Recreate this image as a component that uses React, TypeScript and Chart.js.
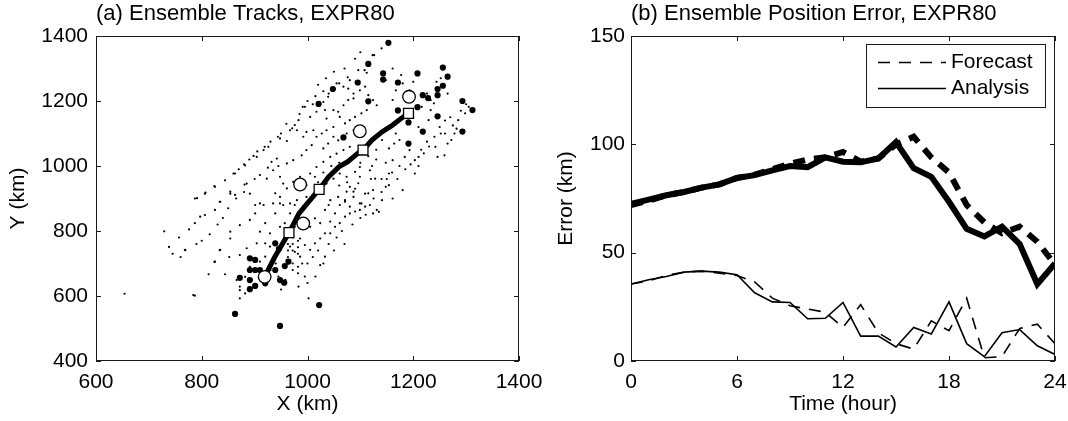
import React, { useEffect, useRef } from 'react';
import { Chart, registerables } from 'chart.js';

Chart.register(...registerables);

const FONT = 'Liberation Sans, Arial, Helvetica, sans-serif';

// ---------- Panel (a): ensemble tracks ----------
const xTicksA = [600, 800, 1000, 1200, 1400];
const yTicksA = [400, 600, 800, 1000, 1200, 1400];

const memberDots: [number, number][] = [
  [654, 607], [729, 799], [738, 751], [757, 780], [769, 741], [776, 805], [787, 601], [797, 844], [807, 918], [813, 667],
  [824, 938], [824, 705], [834, 890], [834, 741], [844, 956], [844, 667], [852, 720], [860, 977], [872, 618], [880, 1005],
  [881, 943], [898, 1031], [919, 1059], [944, 1090], [971, 1116], [991, 1182], [1040, 1223], [1060, 1254], [1076, 1273], [1108, 1295],
  [1123, 1341], [1140, 1362],
  [1126, 1341], [1112, 1287], [1096, 1295], [1080, 1264], [1087, 1223], [1077, 1238], [1068, 1244], [1055, 1254], [1039, 1213], [1030, 1197],
  [1033, 1172], [1017, 1167], [995, 1182], [1005, 1151], [983, 1141], [976, 1126], [967, 1110], [948, 1085], [961, 1077], [980, 1110],
  [992, 1090], [998, 1105], [1011, 1110], [1017, 1090], [1036, 1146], [1049, 1172], [1058, 1167], [1068, 1187], [1077, 1203], [1087, 1208],
  [1099, 1233], [1109, 1244], [1115, 1218], [1124, 1203], [1131, 1187], [1112, 1172], [1102, 1162], [1090, 1151], [1080, 1141], [1071, 1131],
  [1061, 1151], [1049, 1120], [1036, 1110], [1027, 1100], [1049, 1090], [1074, 1100], [1087, 1110], [1058, 1079], [1039, 1069], [1030, 1054],
  [1008, 1064], [998, 1049], [989, 1033], [973, 1018], [961, 1008], [942, 1023], [932, 1013], [926, 1059], [917, 1049], [904, 1028],
  [882, 1002], [863, 977], [825, 936], [806, 915], [787, 900], [854, 915], [835, 890], [910, 972], [923, 961], [935, 987],
  [948, 967], [954, 946], [961, 931], [973, 951], [986, 967], [1005, 977], [1017, 997], [1030, 1013], [1043, 1028], [1055, 1038],
  [1068, 1049], [1080, 1059], [1087, 1028], [1099, 1038], [1109, 1059], [1121, 1074], [1131, 1090], [1099, 997], [1090, 982], [1074, 967],
  [1061, 977], [1049, 961], [1036, 946], [1014, 967], [998, 941], [948, 905], [935, 885], [917, 880], [901, 880], [891, 915],
  [885, 946], [998, 905], [980, 895], [967, 885], [954, 880], [1099, 967], [1118, 987], [1128, 961], [1080, 936], [1058, 905],
  [1071, 890], [1087, 905], [1102, 885], [1109, 915], [1124, 926],
  [791, 901], [825, 865], [854, 921], [863, 911], [768, 742], [787, 824], [806, 849], [784, 603], [825, 706], [835, 742],
  [854, 798], [854, 777], [872, 818], [872, 726], [882, 659], [891, 690], [891, 834], [901, 854], [910, 885], [910, 798],
  [920, 824], [920, 762], [929, 752], [929, 793], [939, 916], [939, 854], [948, 885], [948, 813], [957, 824], [957, 777],
  [967, 854], [967, 752], [976, 880], [976, 736], [986, 854], [986, 777], [986, 721], [995, 880], [995, 757], [1005, 813],
  [1005, 742], [1014, 839], [1014, 762], [1024, 824], [1024, 777], [1024, 695], [1033, 865], [1033, 793], [1033, 721], [1043, 895],
  [1043, 829], [1052, 854], [1061, 880], [1071, 895], [1074, 921], [1080, 875], [1087, 921], [1096, 947], [1099, 885], [1115, 916],
  [1043, 793], [1052, 813], [1061, 824], [1071, 844], [1080, 854], [1090, 860], [1099, 865], [1109, 875], [1118, 880], [1124, 854],
  [1131, 865], [983, 629], [1002, 593], [872, 593], [882, 608], [866, 649], [872, 629], [885, 747], [904, 762], [910, 706],
  [920, 721], [942, 731], [948, 752], [961, 711], [967, 793], [976, 813],
  [963, 760], [963, 740], [963, 720], [963, 700], [972, 780], [972, 760], [972, 740], [972, 700], [972, 680], [982, 770],
  [982, 750], [982, 730], [982, 690], [982, 670], [958, 650], [990, 700], [995, 660], [1000, 640], [940, 700], [930, 680],
  [945, 660], [950, 620],
  [1148, 1264], [1161, 1300], [1161, 1203], [1167, 1233], [1177, 1280], [1180, 1254], [1187, 1218], [1193, 1233], [1200, 1259], [1167, 1100],
  [1174, 1080], [1180, 926], [1164, 1069], [1161, 1018], [1154, 977], [1148, 936], [1141, 895], [1135, 859], [1161, 900], [1154, 941],
  [1174, 1000], [1184, 1028], [1193, 1049], [1203, 1018], [1210, 1028], [1203, 977], [1210, 1000], [1220, 1039], [1226, 1075], [1220, 1100],
  [1229, 1141], [1233, 1172], [1239, 1193], [1246, 1028], [1242, 1059], [1252, 1100], [1265, 1069], [1265, 1223], [1278, 1100], [1285, 1141],
  [1298, 1162], [1305, 1182], [1226, 1223], [1216, 1182], [1200, 1151], [1210, 1120], [1233, 1203], [1252, 1270], [1244, 1259], [1259, 1033],
  [1272, 1080], [1282, 1115], [1141, 1080], [1154, 1054], [1148, 1010], [1130, 1020], [1122, 1000], [1140, 960],
  [870, 990], [890, 1020], [905, 1045], [930, 1075], [950, 1100], [960, 1130], [985, 1160], [1000, 1200], [1015, 1215], [1020, 1250],
  [1035, 1270], [1050, 1290], [1070, 1300], [1090, 1330], [1100, 1350], [1030, 1230], [1010, 1190], [945, 1000], [925, 995], [900, 960],
  [880, 920], [865, 900], [850, 870], [840, 840], [830, 820], [815, 790], [800, 770], [790, 760], [760, 720], [745, 730],
  [1000, 700], [1010, 720], [1020, 740], [1040, 760], [1055, 780], [1065, 800], [1085, 820], [1100, 840], [1110, 850], [1125, 900],
  [1140, 920], [1150, 960], [1160, 980], [1170, 960], [1185, 990], [1195, 1005], [1215, 1050], [1230, 1060], [1240, 1090], [1250, 1120],
  [1260, 1140], [1270, 1150], [1290, 1170], [1300, 1190], [1260, 1100], [1275, 1125], [1050, 740], [1070, 760], [1030, 700], [1015, 660],
  [1040, 880], [1060, 940], [1075, 950], [1090, 930], [1120, 960], [1100, 1010], [1115, 1030], [1130, 1050], [1060, 1010], [1045, 1000],
  [1030, 980], [1020, 950],
];

const memberEnds: [number, number][] = [
  [1153, 1379], [1115, 1314], [1143, 1285], [1143, 1266], [1095, 1257], [1171, 1257], [1048, 1237], [1208, 1285], [1256, 1303], [1265, 1275],
  [1256, 1247], [1246, 1237], [1218, 1218], [1228, 1209], [1246, 1218], [1115, 1199], [1021, 1191], [1208, 1181], [1171, 1171], [1293, 1200],
  [1312, 1172], [1191, 1134], [1246, 1153], [1218, 1106], [1293, 1106], [1191, 1069], [1068, 1088],
  [939, 762], [946, 745], [891, 716], [901, 711], [891, 680], [901, 680], [910, 680], [872, 656], [891, 649], [901, 631],
  [891, 621], [920, 639], [939, 680], [948, 649], [956, 641], [957, 692], [964, 706], [863, 545], [1022, 572], [948, 508],
];

const truthTrack: [number, number][] = [
  [919, 659], [938, 720], [965, 795], [984, 854], [1010, 905], [1022, 928], [1040, 967], [1060, 998],
  [1076, 1013], [1095, 1039], [1105, 1049], [1122, 1080], [1141, 1105], [1161, 1126], [1177, 1146], [1191, 1162],
];

const analysisMarks: [number, number][] = [[965, 795], [1022, 928], [1105, 1049], [1191, 1162]];
const meanMarks: [number, number][] = [[919, 659], [986, 943], [992, 823], [1099, 1107], [1192, 1213]];

// ---------- Panel (b): position error ----------
const hours = [0, 1, 2, 3, 4, 5, 6, 7, 8, 9, 10, 11, 12, 13, 14, 15, 16, 17, 18, 19, 20, 21, 22, 23, 24];
const xTicksB = [0, 6, 12, 18, 24];
const yTicksB = [0, 50, 100, 150];

const meanErrAnalysis = [72.5, 74.5, 76.5, 78, 80, 81.5, 84.5, 85.8, 88, 90, 89.5, 94, 92, 91.7, 93.5, 101, 89, 85, 73.5, 61, 57.5, 62, 54, 35.5, 45];
const meanErrForecast = [72, 74, 76.5, 78, 80, 81.5, 84.5, 86, 88.5, 91, 93, 94, 96.5, 92, 93.5, 100, 103.5, 94, 87, 72, 64, 59, 62, 55, 44.5];
const spreadAnalysis = [35.5, 37.5, 39, 41, 41.5, 41, 39.8, 31.5, 27.3, 27, 19.5, 19.7, 27, 11.5, 11.5, 6.5, 15.5, 12.5, 27.3, 8, 2, 13, 14.5, 7, 3];
const spreadForecast = [35.5, 37, 39.5, 41, 41.5, 40.5, 39.5, 36.5, 29, 25.5, 24, 22.5, 15.5, 26, 13, 8, 5.5, 18.5, 14, 29, 1.5, 2, 15, 17, 8];

const legendLabels = ['Forecast', 'Analysis'];

const toXY = (arr: [number, number][]) => arr.map(([x, y]) => ({ x, y }));
const series = (ys: number[]) => ys.map((y, i) => ({ x: hours[i], y }));

const framePlugin = {
  id: 'matlabFrame',
  afterDatasetsDraw(chart: any) {
    const { ctx, chartArea } = chart;
    const { left, right, top, bottom } = chartArea;
    const xs = chart.scales.x;
    const ys = chart.scales.y;
    const L = 5;
    ctx.save();
    ctx.strokeStyle = '#1a1a1a';
    ctx.lineWidth = 1;
    ctx.beginPath();
    xs.ticks.forEach((t: any) => {
      const px = Math.round(xs.getPixelForValue(t.value)) + 0.5;
      ctx.moveTo(px, bottom);
      ctx.lineTo(px, bottom - L);
      ctx.moveTo(px, top);
      ctx.lineTo(px, top + L);
    });
    ys.ticks.forEach((t: any) => {
      const py = Math.round(ys.getPixelForValue(t.value)) + 0.5;
      ctx.moveTo(left, py);
      ctx.lineTo(left + L, py);
      ctx.moveTo(right, py);
      ctx.lineTo(right - L, py);
    });
    ctx.stroke();
    ctx.strokeRect(Math.round(left) + 0.5, Math.round(top) + 0.5, Math.round(right - left) - 1, Math.round(bottom - top) - 1);
    ctx.restore();
  },
};

const boxLegendPlugin = {
  id: 'boxLegend',
  afterDraw(chart: any, _args: any, opts: any) {
    if (!opts || !opts.items) return;
    const { ctx, chartArea } = chart;
    const w = 179;
    const h = 63;
    const bx = chartArea.right - 10 - w;
    const by = chartArea.top + 8;
    ctx.save();
    ctx.fillStyle = '#fff';
    ctx.fillRect(bx, by, w, h);
    ctx.strokeStyle = '#1a1a1a';
    ctx.lineWidth = 1;
    ctx.strokeRect(Math.round(bx) + 0.5, Math.round(by) + 0.5, w, h);
    opts.items.forEach((it: any, i: number) => {
      const cy = Math.round(by + 18 + i * 26) + 0.5;
      ctx.beginPath();
      ctx.setLineDash(it.dash || []);
      ctx.lineWidth = 1.6;
      ctx.strokeStyle = '#000';
      ctx.moveTo(bx + 12, cy);
      ctx.lineTo(bx + 80, cy);
      ctx.stroke();
      ctx.setLineDash([]);
      ctx.fillStyle = '#000';
      ctx.font = `21px ${FONT}`;
      ctx.textBaseline = 'middle';
      ctx.textAlign = 'left';
      ctx.fillText(it.text, bx + 85, cy);
    });
    ctx.restore();
  },
};

const tickFont = { family: FONT, size: 21 };
const titleFont = { family: FONT, size: 22, weight: 'normal' as const };
const axisTitleFont = { family: FONT, size: 21 };
const plainNumber = (v: any) => String(v);

function makeScales(
  xMin: number, xMax: number, xLabel: string,
  yMin: number, yMax: number, yLabel: string,
  yWidth: number, yTitlePad: number, yTickPad: number,
  xTickVals: number[], yTickVals: number[],
) {
  return {
    x: {
      type: 'linear' as const,
      min: xMin,
      max: xMax,
      afterBuildTicks: (s: any) => { s.ticks = xTickVals.map((v) => ({ value: v })); },
      ticks: { font: tickFont, color: '#000', padding: 9, maxRotation: 0, autoSkip: false, callback: plainNumber },
      grid: { display: false, drawTicks: false },
      border: { display: false },
      title: { display: true, text: xLabel, font: axisTitleFont, color: '#000', padding: { top: 0, bottom: 4 } },
      afterFit: (s: any) => { s.height = 60; s.paddingLeft = 0; s.paddingRight = 0; },
    },
    y: {
      type: 'linear' as const,
      min: yMin,
      max: yMax,
      afterBuildTicks: (s: any) => { s.ticks = yTickVals.map((v) => ({ value: v })); },
      ticks: { font: tickFont, color: '#000', padding: yTickPad, autoSkip: false, callback: plainNumber },
      grid: { display: false, drawTicks: false },
      border: { display: false },
      title: { display: true, text: yLabel, font: axisTitleFont, color: '#000', padding: { top: yTitlePad, bottom: 0 } },
      afterFit: (s: any) => { s.width = yWidth; s.paddingTop = 0; s.paddingBottom = 0; },
    },
  };
}

export default function App() {
  const refA = useRef<HTMLCanvasElement>(null);
  const refB = useRef<HTMLCanvasElement>(null);

  useEffect(() => {
    document.body.style.margin = '0';
    document.body.style.background = '#fff';
    Chart.defaults.font.family = FONT;
    Chart.defaults.color = '#000';

    const chartA = new Chart(refA.current as HTMLCanvasElement, {
      type: 'scatter',
      data: {
        datasets: [
          {
            label: 'mean',
            data: toXY(meanMarks),
            pointStyle: 'circle',
            pointRadius: 6.3,
            backgroundColor: '#fff',
            borderColor: '#000',
            borderWidth: 1.3,
          },
          {
            label: 'analysis',
            data: toXY(analysisMarks),
            pointStyle: 'rect',
            pointRadius: 7,
            backgroundColor: '#fff',
            borderColor: '#000',
            borderWidth: 1.3,
          },
          {
            label: 'truth',
            data: toXY(truthTrack),
            showLine: true,
            pointRadius: 0,
            borderColor: '#000',
            borderWidth: 5,
            borderJoinStyle: 'round',
            borderCapStyle: 'round',
          },
          {
            label: 'ends',
            data: toXY(memberEnds),
            pointRadius: 3.1,
            backgroundColor: '#000',
            borderWidth: 0,
          },
          {
            label: 'members',
            data: toXY(memberDots),
            pointRadius: 1.1,
            backgroundColor: '#000',
            borderWidth: 0,
          },
        ],
      } as any,
      options: {
        animation: false,
        responsive: false,
        devicePixelRatio: 1,
        layout: { padding: { left: 0, right: 1068 - 519, top: 0, bottom: 0 } },
        plugins: {
          legend: { display: false },
          tooltip: { enabled: false },
          title: {
            display: true,
            text: '(a) Ensemble Tracks, EXPR80',
            align: 'start',
            fullSize: false,
            font: titleFont,
            color: '#000',
            padding: { top: 1, bottom: 8.6 },
          },
        },
        scales: makeScales(600, 1400, 'X (km)', 400, 1400, 'Y (km)', 96, 6, 8, xTicksA, yTicksA),
      } as any,
      plugins: [framePlugin],
    });

    const chartB = new Chart(refB.current as HTMLCanvasElement, {
      type: 'scatter',
      data: {
        datasets: [
          {
            label: 'Analysis',
            data: series(meanErrAnalysis),
            showLine: true,
            pointRadius: 0,
            borderColor: '#000',
            borderWidth: 6,
            borderJoinStyle: 'miter',
          },
          {
            label: 'Forecast',
            data: series(meanErrForecast),
            showLine: true,
            pointRadius: 0,
            borderColor: '#000',
            borderWidth: 6,
            borderDash: [12, 9],
            borderJoinStyle: 'miter',
          },
          {
            label: 'Analysis spread',
            data: series(spreadAnalysis),
            showLine: true,
            pointRadius: 0,
            borderColor: '#000',
            borderWidth: 1.6,
          },
          {
            label: 'Forecast spread',
            data: series(spreadForecast),
            showLine: true,
            pointRadius: 0,
            borderColor: '#000',
            borderWidth: 1.6,
            borderDash: [12, 9],
          },
        ],
      } as any,
      options: {
        animation: false,
        responsive: false,
        devicePixelRatio: 1,
        layout: { padding: { left: 534, right: 1068 - 1055, top: 0, bottom: 0 } },
        plugins: {
          legend: { display: false },
          tooltip: { enabled: false },
          title: {
            display: true,
            text: '(b) Ensemble Position Error, EXPR80',
            align: 'start',
            fullSize: false,
            font: titleFont,
            color: '#000',
            padding: { top: 1, bottom: 8.6 },
          },
          boxLegend: {
            items: [
              { text: legendLabels[0], dash: [12, 9] },
              { text: legendLabels[1], dash: [] },
            ],
          },
        },
        scales: makeScales(0, 24, 'Time (hour)', 0, 150, 'Error (km)', 97, 20, 6, xTicksB, yTicksB),
      } as any,
      plugins: [framePlugin, boxLegendPlugin],
    });

    return () => {
      chartA.destroy();
      chartB.destroy();
    };
  }, []);

  return (
    <div style={{ position: 'relative', width: 1068, height: 421, background: '#fff', overflow: 'hidden' }}>
      <canvas ref={refA} width={1068} height={421} style={{ position: 'absolute', left: 0, top: 0, width: 1068, height: 421 }} />
      <canvas ref={refB} width={1068} height={421} style={{ position: 'absolute', left: 0, top: 0, width: 1068, height: 421 }} />
    </div>
  );
}
